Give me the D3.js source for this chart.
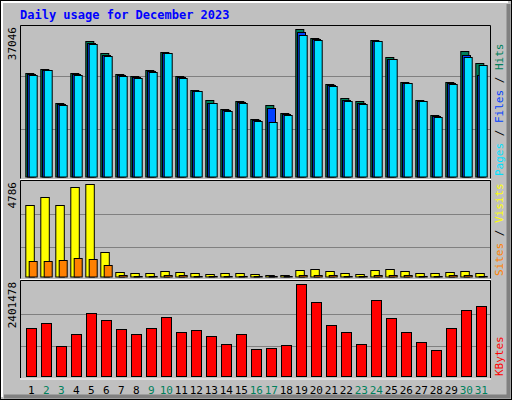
<!DOCTYPE html>
<html><head><meta charset="utf-8">
<script src="https://cdn.jsdelivr.net/npm/d3@7"></script>
<style>body{margin:0;background:#fff}svg{display:block}text{font-family:"DejaVu Sans Mono",monospace}</style>
</head><body><div id="chart"></div>
<script>
// daily stats, December 2023
var days = d3.range(1, 32);
var weekends = [2, 3, 9, 10, 16, 17, 23, 24, 30, 31];
var hits  = [25980,26987,18438,25980,34027,31010,25730,25227,26736,31261,25227,21791,19277,17014,19025,14499,17935,15924,37046,34782,23216,19696,18941,34279,30004,23718,19277,15421,23718,31513,28496];
var files = [25800,26850,18200,25800,33600,30700,25500,25000,26500,31100,25000,21600,18500,16700,18800,14300,17180,15650,36290,34500,22950,19300,18500,34100,29500,23550,19100,15200,23450,30507,25479];
var pages = [25645,26736,17935,25479,33273,30256,25227,24724,26233,31010,24724,21456,18438,16427,18606,14080,13661,15421,35536,34279,22713,18941,18187,34027,29502,23467,18941,14918,23216,30004,27993];
var visits = [3698,4113,3698,4631,4786,1261,225,173,173,276,225,173,121,173,173,121,69,69,328,380,276,173,121,328,380,276,173,173,225,276,173];
var sites  = [795,795,847,950,899,588,60,50,50,60,55,50,45,50,50,45,35,35,60,65,55,50,45,60,65,55,50,50,55,60,50];
var kbytes = [1248800,1379800,777200,1091600,1641800,1458400,1222600,1091600,1248800,1537000,1144000,1196400,1039200,829600,1091600,698600,724800,803400,2401478,1930000,1327400,1144000,829600,1982400,1510800,1144000,882000,672400,1248800,1720400,1825200];

var W = 512, H = 400;
var svg = d3.select("#chart").append("svg").attr("width", W).attr("height", H);

// frame
svg.append("rect").attr("x", 0.5).attr("y", 0.5).attr("width", W - 1).attr("height", H - 1)
  .attr("fill", "#c0c0c0").attr("stroke", "#000");
svg.append("path").attr("d", "M2,397V2H508").attr("fill", "none").attr("stroke", "#fff").attr("stroke-width", 2);
svg.append("path").attr("d", "M508.5,4V396.5H4").attr("fill", "none").attr("stroke", "#808080").attr("stroke-width", 4);

svg.append("text").attr("x", 20).attr("y", 19).attr("fill", "#0000ff")
  .attr("font-size", 12).attr("font-weight", "bold").text("Daily usage for December 2023");

var x = d3.scaleLinear().domain([1, 32]).range([25.3, 490.3]);
var fr = [0.325, 0.68];

function panel(top, bottom, max, label) {
  var y = d3.scaleLinear().domain([0, max]).range([bottom, top + 4.3]);
  svg.append("path").attr("d", `M20.5,${bottom + 2}V${top + 0.5}H490.5V${bottom + 2}`)
    .attr("fill", "none").attr("stroke", "#000");
  svg.append("line").attr("x1", 20).attr("x2", 491).attr("y1", bottom + 3).attr("y2", bottom + 3).attr("stroke", "#fff");
  svg.selectAll(null).data(fr).enter().append("line")
    .attr("x1", 21).attr("x2", 490)
    .attr("y1", (f) => Math.round(y(max * f)) + 0.5).attr("y2", (f) => Math.round(y(max * f)) + 0.5)
    .attr("stroke", "#808080");
  svg.append("text").attr("transform", `translate(16,${top + 2}) rotate(-90)`)
    .attr("text-anchor", "end").attr("font-size", 11).attr("fill", "#000").text(label);
  return y;
}

function bars(data, y, dx, w, color) {
  svg.append("g").selectAll("rect").data(data).enter().append("rect")
    .attr("x", (d, i) => x(i + 1) + dx + 0.5)
    .attr("y", (d) => Math.round(y(d)) + 0.5)
    .attr("width", w).attr("height", (d) => Math.max(0, y.range()[0] - Math.round(y(d))))
    .attr("fill", color).attr("stroke", "#000");
}

var y1 = panel(25, 176.5, d3.max(hits), "37046");
bars(hits, y1, 0, 8, "#00805c");
bars(files, y1, 1.7, 8, "#0040ff");
bars(pages, y1, 3.4, 8, "#00e0ff");

var y2 = panel(180, 276.5, d3.max(visits), "4786");
bars(visits, y2, 0, 8.5, "#ffff00");
bars(sites, y2, 3.4, 8, "#ff8000");

var y3 = panel(280, 376, d3.max(kbytes), "2401478");
bars(kbytes, y3, 0.7, 10, "#ff0000");

// day labels
svg.selectAll(".day").data(days).enter().append("text")
  .attr("x", (d) => x(d) + 6).attr("y", 394).attr("text-anchor", "middle").attr("font-size", 11)
  .attr("fill", (d) => weekends.includes(d) ? "#00805c" : "#000").text((d) => d);

// right-side legends
function legend(yb, parts) {
  var t = svg.append("text").attr("transform", `translate(503,${yb}) rotate(-90)`).attr("font-size", 11);
  parts.forEach((p) => t.append("tspan").attr("fill", p[1]).text(p[0]));
}
legend(176, [["Pages", "#00e0ff"], [" / ", "#000"], ["Files", "#0040ff"], [" / ", "#000"], ["Hits", "#00805c"]]);
legend(276, [["Sites", "#ff8000"], [" / ", "#000"], ["Visits", "#ffff00"]]);
legend(376, [["KBytes", "#ff0000"]]);
</script></body></html>
